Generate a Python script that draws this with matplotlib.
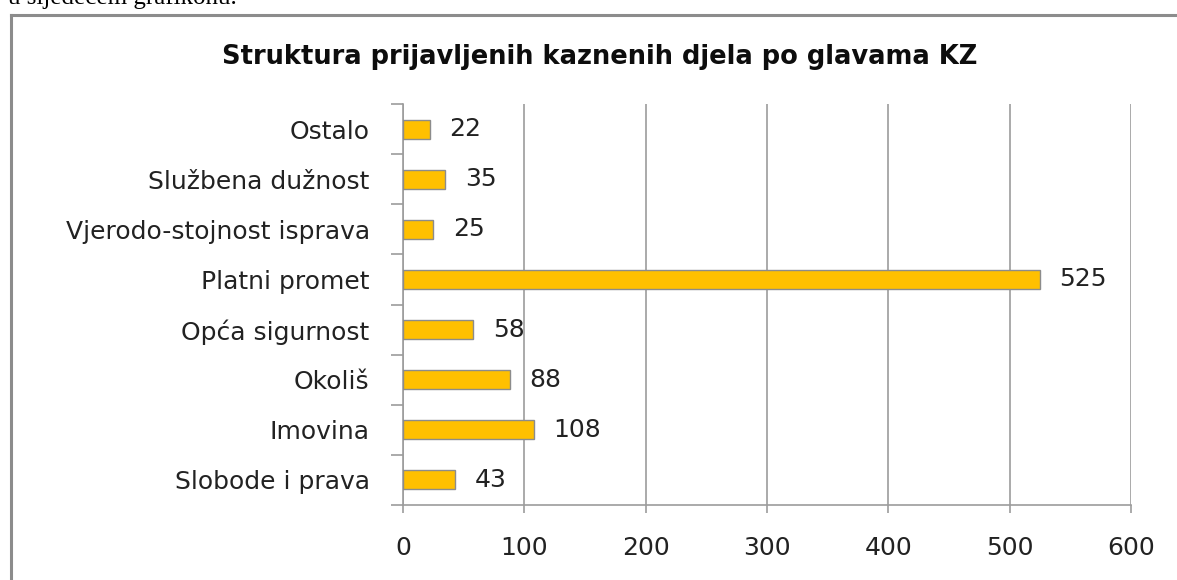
import matplotlib
matplotlib.use("Agg")
import matplotlib.pyplot as plt
from matplotlib.lines import Line2D
import numpy as np

# Data (bottom to top)
categories = ['Slobode i prava', 'Imovina', 'Okoliš', 'Opća sigurnost',
              'Platni promet', 'Vjerodo-stojnost isprava', 'Službena dužnost', 'Ostalo']
counts = [43, 108, 88, 58, 525, 25, 35, 22]
xticks = [0, 100, 200, 300, 400, 500, 600]

W, H = 1177, 580
fig = plt.figure(figsize=(W / 100, H / 100), dpi=100)
fig.patch.set_facecolor('white')

# chart frame (left and top edges visible)
frame_col = '#8c8c8c'
fig.add_artist(Line2D([11 / W, 11 / W], [0, 1 - 15 / H], color=frame_col, lw=2.2,
                      transform=fig.transFigure))
fig.add_artist(Line2D([11 / W, 1], [1 - 15 / H, 1 - 15 / H], color=frame_col, lw=2.2,
                      transform=fig.transFigure))

# sentence of the surrounding document, cut off at the top
fig.text(8 / W, 1 - 4 / H, 'u sljedećem grafikonu.', family='Liberation Serif',
         fontsize=18, va='baseline', ha='left')

ax = fig.add_axes([403 / W, 1 - 505 / H, (1131 - 403) / W, (505 - 104) / H])

y = np.arange(len(categories))
bars = ax.barh(y, counts, height=0.38, color='#FFC000', edgecolor='#8c8c8c',
               linewidth=1.0, zorder=3)

ax.set_xlim(0, 600)
ax.set_ylim(-0.5, len(categories) - 0.5)

ax.set_xticks(xticks)
ax.set_xticklabels([str(v) for v in xticks])
ax.xaxis.grid(True, color='#9c9c9c', linewidth=1.2, zorder=0)

# tick marks sit between categories, labels at the centres
ax.set_yticks(np.arange(-0.5, len(categories), 1))
ax.set_yticklabels([])
ax.set_yticks(y, minor=True)
ax.set_yticklabels(categories, minor=True)

for s in ['top', 'right']:
    ax.spines[s].set_visible(False)
for s in ['left', 'bottom']:
    ax.spines[s].set_color('#9c9c9c')
    ax.spines[s].set_linewidth(1.2)

lab_font = dict(family='DejaVu Sans', size=18, color='#222222')
ax.tick_params(axis='y', which='major', length=8.5, width=1.2, color='#9c9c9c')
ax.tick_params(axis='y', which='minor', length=0, pad=24)
ax.tick_params(axis='x', which='major', length=6, width=1.2, color='#9c9c9c', pad=16)
for t in ax.get_yticklabels(minor=True) + ax.get_xticklabels():
    t.set_fontfamily(lab_font['family'])
    t.set_fontsize(lab_font['size'])
    t.set_color(lab_font['color'])

for b, v in zip(bars, counts):
    ax.annotate(str(v), (v, b.get_y() + b.get_height() / 2), xytext=(14, 0),
                textcoords='offset points', va='center', ha='left', **lab_font)

fig.text(600 / W, 1 - 57 / H, 'Struktura prijavljenih kaznenih djela po glavama KZ',
         family='DejaVu Sans', weight='bold', fontsize=18.5, ha='center', va='center',
         color='#0d0d0d')

fig.savefig('out.png', dpi=100)
